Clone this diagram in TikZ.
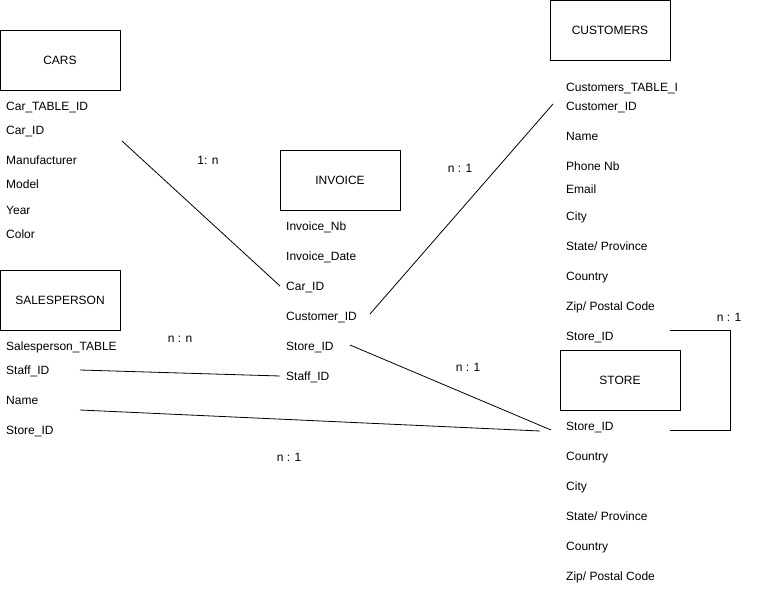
\documentclass[tikz,border=0pt]{standalone}
\usepackage{fontspec}
\setmainfont{Liberation Sans}
\usepackage{tikz}
\usetikzlibrary{calc}

\tikzset{
  table/.style={draw,line width=0.8pt,minimum width=120pt,minimum height=60pt,inner sep=0pt,text height=8.6pt,text depth=-1.5pt},
  attr/.style={anchor=west,inner xsep=6pt,inner ysep=0pt,text height=8.6pt,text depth=0pt,yshift=-1pt},
  card/.style={inner sep=0pt,text height=8.6pt,text depth=0pt,yshift=-1pt},
  link/.style={line width=0.8pt}
}

\begin{document}
\begin{tikzpicture}[x=1pt,y=-1pt,font=\fontsize{12}{14}\selectfont]
  \useasboundingbox (0,0) rectangle (761,591);

  % tables
  \node[table] (cars) at (60,60) {CARS};
  \node[table] (customers) at (610,30) {CUSTOMERS};
  \node[table] (invoice) at (340,180) {INVOICE};
  \node[table] (salesperson) at (60,300) {SALESPERSON};
  \node[table] (store) at (620,380) {STORE};

  % attributes
  \node[attr] (carTable) at (0,105) {Car\_TABLE\_ID};
  \node[attr] (carId) at (0,129) {Car\_ID};
  \node[attr] (carManu) at (0,159) {Manufacturer};
  \node[attr] (carModel) at (0,183) {Model};
  \node[attr] (carYear) at (0,209) {Year};
  \node[attr] (carColor) at (0,233) {Color};

  \node[attr] (custTable) at (560,86) {Customers\_TABLE\_I};
  \node[attr] (custId) at (560,105) {Customer\_ID};
  \node[attr] (custName) at (560,135) {Name};
  \node[attr] (custPhone) at (560,165) {Phone Nb};
  \node[attr] (custEmail) at (560,188) {Email};
  \node[attr] (custCity) at (560,215) {City};
  \node[attr] (custState) at (560,245) {State/ Province};
  \node[attr] (custCountry) at (560,275) {Country};
  \node[attr] (custZip) at (560,305) {Zip/ Postal Code};
  \node[attr] (custStore) at (560,335) {Store\_ID};

  \node[attr] (invNb) at (280,225) {Invoice\_Nb};
  \node[attr] (invDate) at (280,255) {Invoice\_Date};
  \node[attr] (invCar) at (280,285) {Car\_ID};
  \node[attr] (invCust) at (280,315) {Customer\_ID};
  \node[attr] (invStore) at (280,345) {Store\_ID};
  \node[attr] (invStaff) at (280,375) {Staff\_ID};

  \node[attr] (spTable) at (0,345) {Salesperson\_TABLE};
  \node[attr] (spStaff) at (0,369) {Staff\_ID};
  \node[attr] (spName) at (0,399) {Name};
  \node[attr] (spStore) at (0,429) {Store\_ID};

  \node[attr] (stId) at (560,425) {Store\_ID};
  \node[attr] (stCountry) at (560,455) {Country};
  \node[attr] (stCity) at (560,485) {City};
  \node[attr] (stState) at (560,515) {State/ Province};
  \node[attr] (stCountryB) at (560,545) {Country};
  \node[attr] (stZip) at (560,575) {Zip/ Postal Code};

  % link ends
  \coordinate (carLink) at (122,141);
  \coordinate (custLinkA) at (370,314);
  \coordinate (custLinkB) at (553,104);
  \coordinate (storeLinkA) at (350,345);
  \coordinate (storeLinkB) at (551,430);
  \coordinate (staffLink) at (80,370);
  \coordinate (nameLinkA) at (80,410);
  \coordinate (nameLinkB) at (540,431);
  \coordinate (loopA) at (670,330);
  \coordinate (loopB) at (670,430);

  \draw[link] (carLink) -- (invCar.west);
  \draw[link] (custLinkA) -- (custLinkB);
  \draw[link] (storeLinkA) -- (storeLinkB);
  \draw[link] (staffLink) -- (invStaff.west);
  \draw[link] (nameLinkA) -- (nameLinkB);
  \draw[link] (loopA) -- ++(60,0) |- (loopB);

  % cardinalities
  \node[card] (cardCar) at (208,159) {1: n};
  \node[card] (cardCust) at (460,167) {n : 1};
  \node[card] (cardStaff) at (180,337) {n : n};
  \node[card] (cardStore) at (468,366) {n : 1};
  \node[card] (cardName) at (289,456) {n : 1};
  \node[card] (cardLoop) at (729,316) {n : 1};
\end{tikzpicture}
\end{document}
